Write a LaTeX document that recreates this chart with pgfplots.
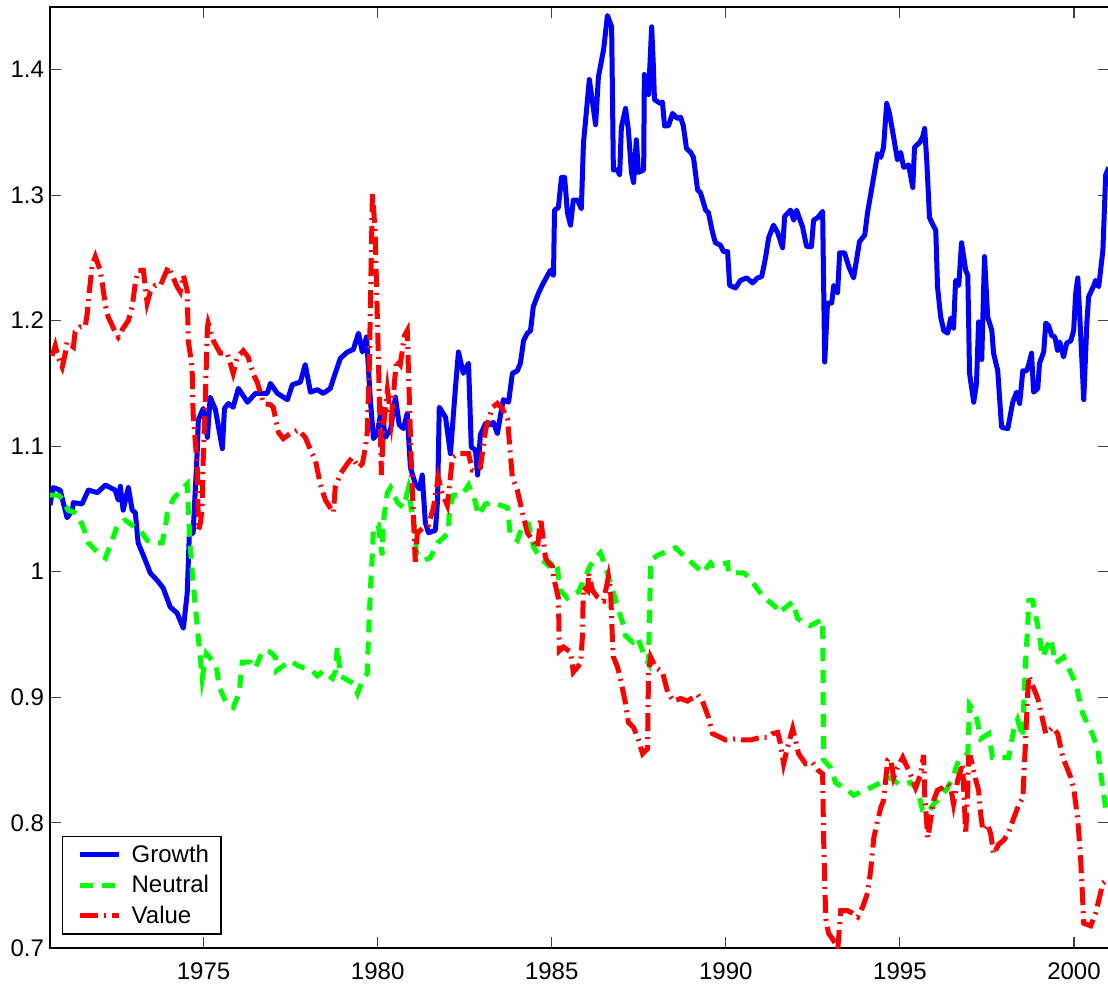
\documentclass[border=0pt]{standalone}
\usepackage{fontspec}
\setmainfont{Liberation Sans}
\usepackage{pgfplots}
\pgfplotsset{compat=1.18}
\usepackage{pgfplotstable}
\usetikzlibrary{calc}

\pgfplotstableread{
x y
1970.59 1.053
1970.68 1.067
1970.88 1.065
1971.08 1.043
1971.23 1.049
1971.26 1.055
1971.51 1.054
1971.69 1.065
1971.95 1.063
1972.18 1.069
1972.46 1.065
1972.55 1.057
1972.61 1.068
1972.69 1.049
1972.84 1.067
1972.95 1.049
1973.04 1.047
1973.12 1.023
1973.27 1.013
1973.47 0.999
1973.67 0.993
1973.84 0.987
1974.04 0.972
1974.24 0.967
1974.42 0.955
1974.53 0.983
1974.59 1.029
1974.70 1.031
1974.82 1.097
1974.85 1.121
1974.99 1.130
1975.11 1.107
1975.19 1.139
1975.34 1.129
1975.54 1.098
1975.60 1.130
1975.71 1.134
1975.85 1.131
1976.00 1.146
1976.26 1.135
1976.49 1.142
1976.83 1.142
1976.92 1.150
1977.12 1.142
1977.41 1.137
1977.55 1.149
1977.78 1.151
1977.92 1.165
1978.07 1.143
1978.27 1.145
1978.44 1.142
1978.64 1.146
1978.78 1.158
1978.93 1.170
1979.13 1.175
1979.30 1.177
1979.45 1.190
1979.56 1.175
1979.68 1.187
1979.79 1.137
1979.88 1.106
1979.99 1.110
1980.11 1.130
1980.22 1.107
1980.37 1.113
1980.51 1.139
1980.62 1.117
1980.74 1.114
1980.85 1.126
1980.94 1.083
1981.08 1.070
1981.20 1.066
1981.28 1.077
1981.37 1.039
1981.46 1.031
1981.66 1.033
1981.72 1.057
1981.77 1.131
1981.95 1.123
1982.09 1.094
1982.23 1.145
1982.32 1.175
1982.46 1.158
1982.61 1.166
1982.69 1.099
1982.81 1.097
1982.87 1.077
1982.95 1.109
1983.10 1.118
1983.24 1.117
1983.32 1.119
1983.44 1.110
1983.53 1.125
1983.61 1.137
1983.76 1.135
1983.87 1.158
1984.01 1.160
1984.10 1.166
1984.19 1.184
1984.30 1.190
1984.39 1.192
1984.47 1.211
1984.62 1.222
1984.76 1.230
1984.96 1.240
1985.05 1.236
1985.08 1.288
1985.19 1.290
1985.28 1.314
1985.37 1.314
1985.45 1.286
1985.54 1.276
1985.62 1.296
1985.74 1.296
1985.85 1.289
1985.91 1.341
1986.08 1.392
1986.26 1.356
1986.34 1.394
1986.49 1.416
1986.60 1.443
1986.72 1.434
1986.77 1.320
1986.89 1.320
1986.95 1.316
1987.00 1.354
1987.12 1.369
1987.20 1.352
1987.29 1.318
1987.35 1.310
1987.43 1.344
1987.49 1.318
1987.64 1.320
1987.66 1.396
1987.78 1.380
1987.87 1.434
1987.92 1.402
1987.95 1.376
1988.12 1.373
1988.18 1.374
1988.24 1.355
1988.35 1.355
1988.47 1.365
1988.61 1.361
1988.70 1.362
1988.78 1.355
1988.87 1.337
1988.99 1.334
1989.07 1.330
1989.19 1.304
1989.27 1.302
1989.42 1.288
1989.50 1.286
1989.62 1.270
1989.70 1.262
1989.85 1.260
1989.93 1.255
1990.05 1.255
1990.11 1.228
1990.28 1.226
1990.42 1.232
1990.60 1.234
1990.77 1.230
1990.91 1.234
1991.03 1.235
1991.14 1.250
1991.23 1.266
1991.37 1.276
1991.49 1.270
1991.63 1.258
1991.69 1.283
1991.86 1.288
1991.95 1.280
1992.03 1.288
1992.20 1.275
1992.32 1.259
1992.46 1.259
1992.52 1.280
1992.64 1.282
1992.78 1.287
1992.84 1.167
1992.92 1.214
1993.04 1.214
1993.10 1.228
1993.21 1.222
1993.27 1.254
1993.41 1.254
1993.53 1.243
1993.67 1.234
1993.84 1.263
1993.99 1.268
1994.07 1.286
1994.22 1.310
1994.36 1.333
1994.45 1.330
1994.53 1.338
1994.62 1.373
1994.70 1.365
1994.82 1.346
1994.93 1.328
1995.02 1.334
1995.11 1.322
1995.25 1.324
1995.37 1.306
1995.42 1.338
1995.57 1.342
1995.65 1.346
1995.71 1.353
1995.77 1.328
1995.85 1.282
1995.97 1.275
1996.03 1.272
1996.08 1.227
1996.17 1.203
1996.26 1.192
1996.37 1.190
1996.46 1.202
1996.54 1.194
1996.60 1.232
1996.69 1.228
1996.77 1.262
1996.89 1.240
1996.95 1.236
1997.00 1.158
1997.12 1.135
1997.20 1.150
1997.26 1.199
1997.35 1.169
1997.43 1.251
1997.52 1.203
1997.64 1.192
1997.69 1.174
1997.81 1.160
1997.92 1.115
1998.10 1.114
1998.24 1.135
1998.35 1.143
1998.44 1.134
1998.53 1.160
1998.64 1.160
1998.70 1.165
1998.78 1.174
1998.84 1.143
1998.96 1.146
1999.01 1.166
1999.13 1.175
1999.19 1.198
1999.27 1.196
1999.36 1.188
1999.45 1.187
1999.53 1.176
1999.59 1.183
1999.70 1.171
1999.79 1.182
1999.91 1.184
1999.99 1.192
2000.05 1.222
2000.11 1.234
2000.19 1.190
2000.28 1.137
2000.37 1.198
2000.42 1.219
2000.57 1.228
2000.62 1.232
2000.71 1.227
2000.83 1.256
2000.91 1.316
2001.00 1.322
}\growth

\pgfplotstableread{
x y
1970.59 1.061
1970.82 1.061
1970.94 1.058
1971.11 1.049
1971.31 1.047
1971.40 1.045
1971.60 1.031
1971.69 1.023
1971.97 1.015
1972.18 1.011
1972.38 1.025
1972.52 1.037
1972.75 1.041
1972.95 1.037
1973.04 1.035
1973.18 1.033
1973.38 1.025
1973.55 1.023
1973.81 1.023
1973.90 1.035
1973.96 1.047
1974.13 1.058
1974.39 1.066
1974.53 1.070
1974.56 1.051
1974.62 1.019
1974.70 0.991
1974.82 0.956
1974.96 0.915
1975.08 0.935
1975.17 0.932
1975.37 0.924
1975.45 0.908
1975.65 0.896
1975.85 0.892
1976.02 0.903
1976.11 0.928
1976.34 0.928
1976.49 0.923
1976.69 0.937
1976.92 0.936
1977.06 0.932
1977.09 0.921
1977.49 0.929
1977.72 0.925
1978.12 0.921
1978.27 0.917
1978.44 0.921
1978.70 0.915
1978.79 0.921
1978.84 0.940
1978.93 0.917
1979.30 0.911
1979.42 0.903
1979.56 0.913
1979.70 0.919
1979.73 0.943
1979.79 0.985
1979.85 1.015
1979.88 1.035
1980.02 1.037
1980.13 1.013
1980.16 1.039
1980.28 1.063
1980.37 1.067
1980.57 1.055
1980.74 1.051
1980.88 1.066
1980.99 1.045
1981.08 1.033
1981.11 1.015
1981.31 1.009
1981.51 1.011
1981.72 1.023
1981.89 1.027
1982.03 1.031
1982.06 1.050
1982.18 1.061
1982.43 1.061
1982.61 1.069
1982.81 1.055
1982.89 1.045
1983.10 1.054
1983.32 1.055
1983.73 1.051
1983.81 1.029
1984.01 1.025
1984.19 1.039
1984.33 1.038
1984.47 1.020
1984.67 1.011
1984.90 1.005
1985.05 1.009
1985.16 1.003
1985.25 0.985
1985.45 0.979
1985.77 0.984
1985.91 0.993
1986.11 1.005
1986.26 1.011
1986.40 1.015
1986.60 0.999
1986.69 0.991
1986.89 0.972
1987.03 0.960
1987.12 0.949
1987.32 0.944
1987.46 0.948
1987.69 0.931
1987.78 0.927
1987.84 1.009
1988.04 1.013
1988.21 1.015
1988.56 1.019
1988.78 1.013
1989.19 1.003
1989.33 0.999
1989.56 1.007
1989.62 1.005
1990.05 1.007
1990.08 0.999
1990.51 0.999
1990.65 0.996
1990.94 0.985
1991.08 0.980
1991.43 0.972
1991.51 0.967
1991.92 0.976
1992.06 0.963
1992.23 0.959
1992.43 0.957
1992.78 0.962
1992.81 0.850
1993.01 0.844
1993.15 0.832
1993.50 0.826
1993.67 0.822
1994.16 0.828
1994.45 0.832
1994.73 0.836
1994.96 0.831
1995.31 0.832
1995.51 0.826
1995.65 0.810
1995.80 0.808
1995.97 0.815
1996.17 0.820
1996.37 0.828
1996.52 0.836
1996.69 0.850
1996.95 0.855
1997.00 0.894
1997.18 0.887
1997.32 0.867
1997.55 0.871
1997.66 0.852
1998.12 0.852
1998.27 0.874
1998.38 0.882
1998.53 0.868
1998.56 0.898
1998.61 0.929
1998.67 0.956
1998.70 0.977
1998.81 0.977
1998.96 0.957
1999.10 0.932
1999.33 0.947
1999.47 0.927
1999.70 0.932
2000.05 0.911
2000.25 0.887
2000.54 0.870
2000.68 0.859
2000.77 0.839
2000.91 0.812
2001.00 0.806
}\neutral

\pgfplotstableread{
x y
1970.65 1.172
1970.74 1.180
1970.82 1.171
1970.94 1.163
1971.03 1.174
1971.08 1.183
1971.26 1.179
1971.31 1.191
1971.46 1.195
1971.60 1.195
1971.66 1.206
1971.69 1.216
1971.80 1.244
1971.89 1.251
1972.03 1.240
1972.09 1.230
1972.18 1.212
1972.26 1.203
1972.41 1.194
1972.55 1.187
1972.69 1.194
1972.84 1.200
1972.95 1.211
1973.04 1.230
1973.12 1.240
1973.27 1.240
1973.38 1.214
1973.47 1.223
1973.61 1.228
1973.76 1.228
1973.99 1.243
1974.10 1.236
1974.24 1.227
1974.33 1.223
1974.42 1.236
1974.53 1.224
1974.56 1.184
1974.67 1.163
1974.70 1.126
1974.82 1.083
1974.85 1.033
1974.91 1.039
1974.96 1.051
1974.99 1.089
1975.05 1.137
1975.11 1.195
1975.13 1.198
1975.28 1.184
1975.48 1.174
1975.68 1.174
1975.85 1.158
1975.97 1.171
1976.14 1.176
1976.28 1.171
1976.43 1.157
1976.54 1.151
1976.72 1.134
1976.92 1.133
1977.00 1.131
1977.06 1.123
1977.15 1.111
1977.29 1.106
1977.49 1.110
1977.72 1.113
1977.92 1.107
1978.07 1.097
1978.21 1.089
1978.35 1.070
1978.50 1.057
1978.73 1.047
1978.78 1.067
1978.93 1.078
1979.13 1.086
1979.27 1.091
1979.45 1.083
1979.56 1.086
1979.65 1.099
1979.70 1.110
1979.76 1.163
1979.85 1.302
1979.93 1.270
1980.05 1.137
1980.11 1.077
1980.16 1.113
1980.28 1.145
1980.39 1.121
1980.54 1.169
1980.65 1.165
1980.77 1.188
1980.85 1.192
1980.91 1.137
1980.97 1.083
1981.08 1.008
1981.14 1.031
1981.31 1.035
1981.46 1.037
1981.60 1.051
1981.74 1.075
1981.86 1.062
1982.00 1.053
1982.15 1.091
1982.29 1.094
1982.61 1.094
1982.72 1.081
1982.87 1.081
1982.95 1.083
1983.10 1.113
1983.30 1.131
1983.44 1.134
1983.58 1.130
1983.73 1.122
1983.81 1.094
1983.87 1.075
1984.01 1.065
1984.16 1.047
1984.30 1.031
1984.45 1.025
1984.59 1.019
1984.68 1.043
1984.82 1.011
1984.91 1.007
1985.02 1.004
1985.05 0.996
1985.19 0.979
1985.22 0.937
1985.34 0.940
1985.54 0.936
1985.62 0.920
1985.83 0.927
1985.88 0.948
1985.91 0.988
1986.03 0.985
1986.06 0.999
1986.17 0.985
1986.31 0.980
1986.49 0.977
1986.63 0.996
1986.69 0.985
1986.74 0.948
1986.77 0.932
1986.89 0.924
1986.97 0.915
1987.12 0.895
1987.20 0.880
1987.35 0.876
1987.49 0.866
1987.61 0.855
1987.75 0.859
1987.78 0.919
1987.84 0.932
1987.98 0.924
1988.18 0.920
1988.33 0.904
1988.50 0.897
1988.70 0.899
1988.90 0.897
1989.19 0.902
1989.33 0.897
1989.50 0.884
1989.62 0.871
1989.85 0.868
1989.99 0.866
1990.34 0.867
1990.48 0.866
1990.71 0.866
1990.85 0.867
1991.00 0.868
1991.20 0.868
1991.34 0.871
1991.49 0.872
1991.57 0.863
1991.66 0.847
1991.77 0.860
1991.92 0.875
1992.00 0.866
1992.09 0.855
1992.29 0.847
1992.49 0.848
1992.64 0.842
1992.78 0.839
1992.81 0.786
1992.87 0.724
1992.95 0.712
1993.15 0.704
1993.21 0.697
1993.30 0.730
1993.50 0.730
1993.64 0.728
1993.79 0.725
1993.93 0.733
1994.07 0.744
1994.16 0.762
1994.25 0.788
1994.36 0.802
1994.45 0.812
1994.53 0.818
1994.65 0.850
1994.73 0.851
1994.82 0.836
1994.93 0.844
1995.08 0.852
1995.16 0.847
1995.25 0.842
1995.37 0.834
1995.45 0.828
1995.60 0.839
1995.68 0.854
1995.71 0.823
1995.80 0.788
1995.88 0.802
1995.97 0.818
1996.08 0.826
1996.23 0.828
1996.37 0.831
1996.46 0.828
1996.54 0.815
1996.66 0.834
1996.80 0.847
1996.89 0.791
1996.95 0.828
1996.97 0.852
1997.03 0.852
1997.18 0.834
1997.26 0.826
1997.32 0.807
1997.38 0.794
1997.52 0.799
1997.61 0.791
1997.69 0.775
1997.84 0.783
1997.98 0.786
1998.12 0.792
1998.27 0.804
1998.41 0.814
1998.53 0.820
1998.61 0.866
1998.67 0.903
1998.70 0.917
1998.96 0.899
1999.19 0.871
1999.39 0.876
1999.53 0.871
1999.68 0.852
1999.91 0.836
1999.99 0.828
2000.11 0.802
2000.19 0.772
2000.25 0.738
2000.28 0.720
2000.48 0.718
2000.62 0.728
2000.71 0.738
2000.83 0.752
2001.00 0.756
}\valuedata

\begin{document}
\begin{tikzpicture}
\begin{axis}[
  scale only axis,
  width=529pt, height=470.5pt,
  xmin=1970.59, xmax=2001.0,
  ymin=0.7, ymax=1.45,
  xtick={1975,1980,1985,1990,1995,2000},
  ytick={0.7,0.8,0.9,1,1.1,1.2,1.3,1.4},
  tick align=inside,
  xtick pos=both, ytick pos=both,
  xticklabel pos=lower, yticklabel pos=left,
  major tick length=5.5pt,
  tick style={black!75, line width=0.5pt},
  axis line style={black, line width=0.9pt},
  tick label style={font=\fontsize{12}{14}\selectfont},
  /pgf/number format/assume math mode=true,
  xticklabel style={/pgf/number format/1000 sep={}, yshift=-3.5pt},
  yticklabel style={xshift=0.5pt},
  legend style={at={(0.0113,0.0146)}, anchor=south west, draw=black,
    line width=0.6pt, fill=white,
    font=\fontsize{12}{14}\selectfont,
    inner xsep=4pt, inner ysep=2pt,
    row sep=1pt},
  legend cell align=left,
  legend image code/.code={\path (0pt,0pt) (26pt,0pt); \draw[#1] (3.5pt,0pt) -- (23pt,0pt);},
]
\addplot[blue, line width=2.5pt, line join=round] table {\growth};
\addplot[green, line width=2.5pt, dash pattern=on 6.5pt off 4.5pt] table {\neutral};
\addplot[red, line width=2.5pt, dash pattern=on 9pt off 3pt on 1pt off 3pt] table {\valuedata};
\legend{Growth,Neutral,Value}
\coordinate (ll) at (rel axis cs:0,0);
\coordinate (ur) at (rel axis cs:1,1);
\end{axis}
\pgfresetboundingbox
\path[use as bounding box] ($(ll)+(-25pt,-19.5pt)$) rectangle ($(ur)+(-0.4pt,3.35pt)$);
\end{tikzpicture}
\end{document}
